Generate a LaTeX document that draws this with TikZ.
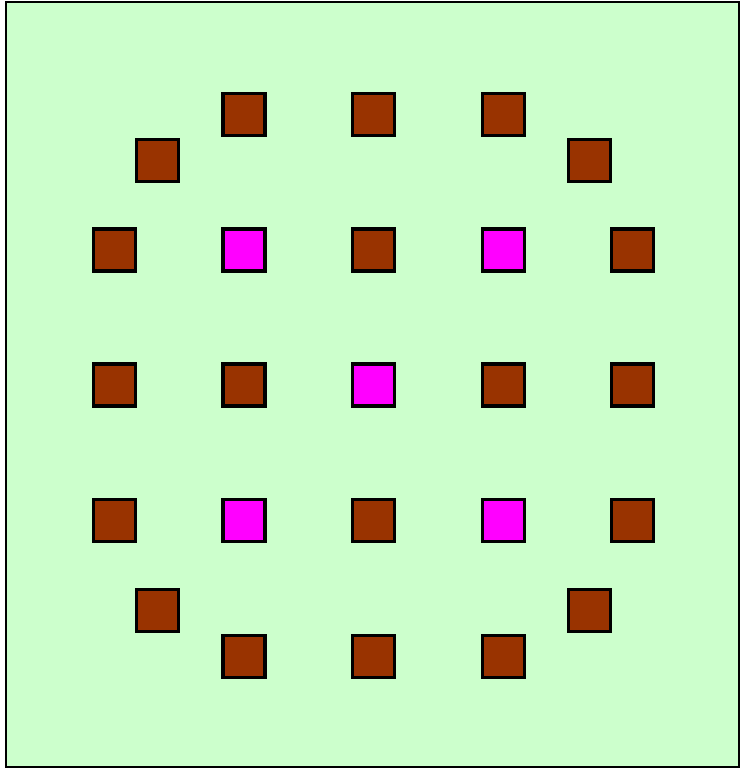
\documentclass[tikz,border=0pt]{standalone}
\usepackage{tikz}
\definecolor{field}{HTML}{CCFFCC}
\definecolor{brick}{HTML}{993300}
\definecolor{pink}{HTML}{FF00FF}

\begin{document}
\begin{tikzpicture}[
  x=1pt, y=-1pt,
  frame/.style={draw=black, line width=2.5pt, fill=field},
  tile/.style={draw=black, line width=3.2pt, fill=brick, minimum size=42pt, inner sep=0pt},
  hot/.style={tile, fill=pink}
]
\useasboundingbox (0,0) rectangle (740,769);
\draw[frame] (6,2) rectangle (739,767);

% outer ring
\foreach \name/\x/\y in {t1/244/114.5, t2/373.5/114.5, t3/503.5/114.5,
  c1/157.5/160.5, c2/589.5/160.5,
  l1/114.5/250, l2/114.5/385, l3/114.5/520.5,
  r1/632.5/250, r2/632.5/385, r3/632.5/520.5,
  c3/157.5/610.5, c4/589.5/610.5,
  b1/244/656.5, b2/373.5/656.5, b3/503.5/656.5}
  \node[tile] (\name) at (\x,\y) {};

% inner grid
\node[hot]  (i11) at (244,250) {};
\node[tile] (i12) at (373.5,250) {};
\node[hot]  (i13) at (503.5,250) {};
\node[tile] (i21) at (244,385) {};
\node[hot]  (i22) at (373.5,385) {};
\node[tile] (i23) at (503.5,385) {};
\node[hot]  (i31) at (244,520.5) {};
\node[tile] (i32) at (373.5,520.5) {};
\node[hot]  (i33) at (503.5,520.5) {};
\end{tikzpicture}
\end{document}
